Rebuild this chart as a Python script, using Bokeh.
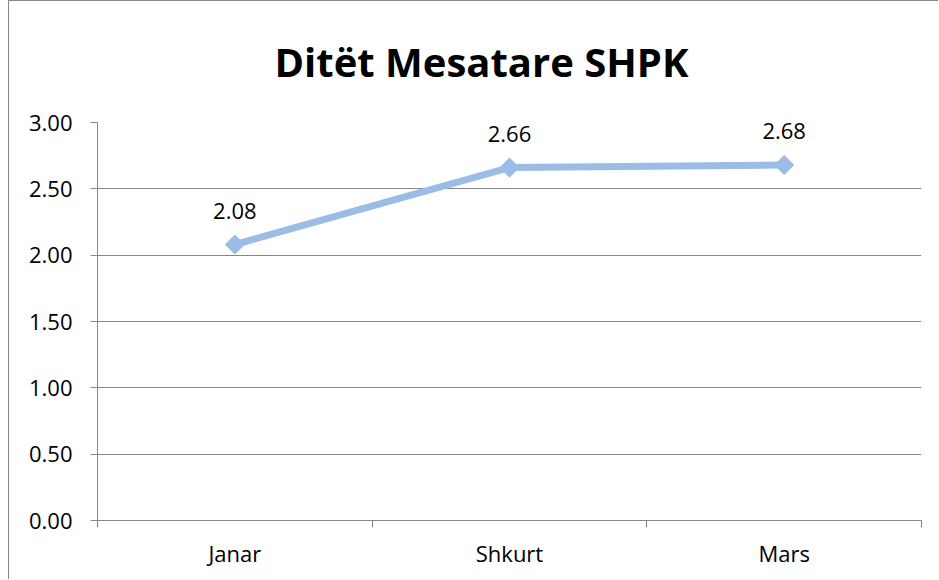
import math
from bokeh.plotting import figure
from bokeh.models import Range1d, FixedTicker, NumeralTickFormatter, ColumnDataSource
from bokeh.core.properties import value
from bokeh.embed import file_html
from bokeh.resources import INLINE

title_text = "Ditët Mesatare SHPK"
categories = ["Janar", "Shkurt", "Mars"]
values = [2.08, 2.66, 2.68]
y_ticks = [0.0, 0.5, 1.0, 1.5, 2.0, 2.5, 3.0]

FONT = "Open Sans"
GRID = "#868686"
LINE = "#9BBCE5"

xs = [i + 0.5 for i in range(len(categories))]
src = ColumnDataSource(dict(x=xs, y=values, lab=["%.2f" % v for v in values]))

p = figure(width=930, height=579, output_backend="svg", toolbar_location=None,
           x_range=Range1d(0, len(categories)), y_range=Range1d(0, 3.0),
           min_border_left=88, min_border_right=18, min_border_top=0, min_border_bottom=60)
p.outline_line_color = None
p.background_fill_color = "white"
p.border_fill_color = "white"
p.styles = {"margin-left": "8px", "margin-top": "0px",
            "border-left": "1px solid #868686", "border-top": "1px solid #868686"}

# title
p.title.text = title_text
p.title.align = "left"
p.title.offset = 177
p.title.vertical_align = "top"
p.title.standoff = 64
p.title.text_font = FONT
p.title.text_font_size = "40px"
p.title.text_font_style = "bold"
p.title.text_color = "black"

# x axis
xa = p.xaxis[0]
xa.ticker = FixedTicker(ticks=xs, minor_ticks=list(range(len(categories) + 1)))
xa.major_label_overrides = {x: c for x, c in zip(xs, categories)}
xa.major_tick_line_color = None
xa.major_tick_out = 7
xa.major_tick_in = 0
xa.minor_tick_out = 7
xa.minor_tick_in = 0
xa.minor_tick_line_color = GRID
xa.axis_line_color = GRID
xa.major_label_standoff = 10
xa.major_label_text_font = FONT
xa.major_label_text_font_size = "22px"
xa.major_label_text_color = "black"

# y axis
ya = p.yaxis[0]
ya.ticker = FixedTicker(ticks=y_ticks)
ya.formatter = NumeralTickFormatter(format="0.00")
ya.major_tick_out = 7
ya.major_tick_in = 0
ya.minor_tick_line_color = None
ya.major_tick_line_color = GRID
ya.axis_line_color = GRID
ya.major_label_standoff = 18
ya.major_label_text_font = FONT
ya.major_label_text_font_size = "22px"
ya.major_label_text_color = "black"

p.xgrid.grid_line_color = None
p.ygrid.grid_line_color = GRID
p.ygrid.grid_line_width = 1

p.line("x", "y", source=src, line_color=LINE, line_width=7)
p.scatter("x", "y", source=src, marker="square", angle=math.pi / 4, size=13.5,
          fill_color=LINE, line_color=LINE)
p.text("x", "y", text="lab", source=src, y_offset=-34, text_align="center",
       text_baseline="middle", text_font=value(FONT), text_font_size="22px", text_color="black")

open("out.html", "w").write(file_html(p, INLINE))
